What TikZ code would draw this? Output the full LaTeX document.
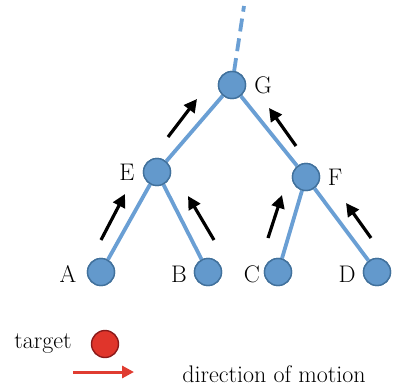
\documentclass[tikz,border=0pt]{standalone}
\usepackage{fontspec}
\usetikzlibrary{arrows.meta}
\definecolor{edgeblue}{HTML}{6A9FD4}
\definecolor{nodefill}{HTML}{6399CC}
\definecolor{nodeborder}{HTML}{41719C}
\definecolor{tred}{HTML}{E0352B}
\definecolor{tredborder}{HTML}{8B1A1A}
\definecolor{arrred}{HTML}{E03C31}
\begin{document}
\begin{tikzpicture}[x=1pt,y=-1pt,
  tnode/.style={circle,fill=nodefill,draw=nodeborder,line width=1.4pt,minimum size=27pt,inner sep=0pt},
  lbl/.style={font=\fontsize{24}{28}\selectfont,inner sep=0pt},
  edge/.style={draw=edgeblue,line width=3.8pt},
  motion/.style={draw=black,line width=3.2pt,-{Triangle[length=13pt,width=13pt]}}]
\useasboundingbox (0,0) rectangle (393,388);
% nodes
\node[tnode] (G) at (232,85) {};
\node[tnode] (E) at (157,172) {};
\node[tnode] (F) at (306,177) {};
\node[tnode] (A) at (101,272) {};
\node[tnode] (B) at (208,272) {};
\node[tnode] (C) at (278,272) {};
\node[tnode] (D) at (377,272) {};
\coordinate (top) at (244,6);
% edges
\draw[edge,dash pattern=on 13pt off 7pt] (G) -- (top);
\draw[edge] (G) -- (E);
\draw[edge] (G) -- (F);
\draw[edge] (E) -- (A);
\draw[edge] (E) -- (B);
\draw[edge] (F) -- (C);
\draw[edge] (F) -- (D);
% redraw nodes on top of edges
\foreach \x/\y in {232/85,157/172,306/177,101/272,208/272,278/272,377/272}{
  \node[tnode] at (\x,\y) {};
}
% labels
\node[lbl] (lG) at (263,85) {G};
\node[lbl] (lE) at (127,172) {E};
\node[lbl] (lF) at (335,177) {F};
\node[lbl] (lA) at (68,274) {A};
\node[lbl] (lB) at (179,274) {B};
\node[lbl] (lC) at (252,274) {C};
\node[lbl] (lD) at (347,274) {D};
% motion arrows
\coordinate (a1s) at (101,240); \coordinate (a1e) at (125,194);
\coordinate (a2s) at (214,240); \coordinate (a2e) at (188,196);
\coordinate (a3s) at (168,137); \coordinate (a3e) at (197,99);
\coordinate (a4s) at (296,146); \coordinate (a4e) at (269,108);
\coordinate (a5s) at (268,238); \coordinate (a5e) at (282,195);
\coordinate (a6s) at (371,238); \coordinate (a6e) at (346,203);
\foreach \i in {1,...,6}{\draw[motion] (a\i s) -- (a\i e);}
% legend
\node[lbl,anchor=base] (ltarget) at (43,348) {target};
\node[circle,fill=tred,draw=tredborder,line width=1.4pt,minimum size=27pt,inner sep=0pt] (target) at (105,344) {};
\coordinate (r1) at (73,372);
\coordinate (r2) at (134,372);
\draw[draw=arrred,line width=3pt,-{Triangle[length=12pt,width=12pt]}] (r1) -- (r2);
\node[lbl,anchor=base] (ldir) at (274,382) {direction of motion};
\end{tikzpicture}
\end{document}
